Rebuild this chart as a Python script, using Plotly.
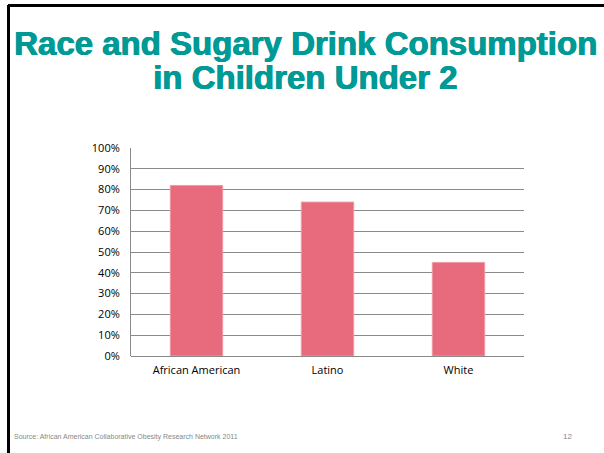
import plotly.graph_objects as go

categories = ["African American", "Latino", "White"]
values = [0.82, 0.74, 0.45]
tick_vals = [i / 10 for i in range(11)]
tick_text = [f"{i*10}%" for i in range(11)]
title_lines = ["Race and Sugary Drink Consumption", "in Children Under 2"]

W, H = 604, 453
L, R, T, B = 131, 80, 148, 97
PW, PH = W - L - R, H - T - B


def px(x):
    return (x - L) / PW


def py(y):
    return (H - B - y) / PH


fig = go.Figure()
fig.add_trace(go.Bar(
    x=categories, y=values,
    marker=dict(color="#E76B7C", line=dict(color="#F09AA5", width=1)),
    width=0.4,
))

annotations = []
for line, yc in zip(title_lines, [43, 77]):
    annotations.append(dict(
        text=f"<b>{line}</b>", xref="paper", yref="paper",
        x=px(305), y=py(yc), xanchor="center", yanchor="middle", showarrow=False,
        font=dict(family="Liberation Sans, Arial, sans-serif", size=33, color="#009A96",
                  shadow="0.7px 0 0 #009A96, -0.3px 0 0 #009A96")))
annotations += [
    dict(text="Source: African American Collaborative Obesity Research Network 2011",
         xref="paper", yref="paper", x=px(12), y=py(437),
         xanchor="left", yanchor="middle", showarrow=False,
         font=dict(family="Liberation Sans, Arial, sans-serif", size=7, color="#888888")),
    dict(text="12", xref="paper", yref="paper", x=px(567), y=py(436),
         xanchor="center", yanchor="middle", showarrow=False,
         font=dict(family="Liberation Sans, Arial, sans-serif", size=8, color="#888888")),
]

fig.update_layout(
    width=W, height=H,
    margin=dict(l=L, r=R, t=T, b=B, pad=0),
    paper_bgcolor="white", plot_bgcolor="white",
    showlegend=False,
    font=dict(family="Open Sans, Liberation Sans, sans-serif", size=11, color="black"),
    xaxis=dict(showgrid=False, showline=False, ticks="", tickfont=dict(size=11),
               ticklabelstandoff=6),
    yaxis=dict(range=[0, 1], tickvals=tick_vals, ticktext=tick_text,
               showgrid=True, gridcolor="#8a8a8a", gridwidth=1,
               showline=True, linecolor="#8a8a8a", linewidth=1,
               zeroline=True, zerolinecolor="#8a8a8a", zerolinewidth=1,
               ticks="", ticklabelstandoff=8, tickfont=dict(size=11)),
    shapes=[
        dict(type="line", xref="paper", yref="paper",
             x0=px(8), x1=px(W + 5), y0=py(5.5), y1=py(5.5),
             line=dict(color="black", width=3)),
        dict(type="line", xref="paper", yref="paper",
             x0=px(8.5), x1=px(8.5), y0=py(5), y1=py(H + 2),
             line=dict(color="black", width=3)),
    ],
    annotations=annotations,
)

fig.write_html("out.html")
